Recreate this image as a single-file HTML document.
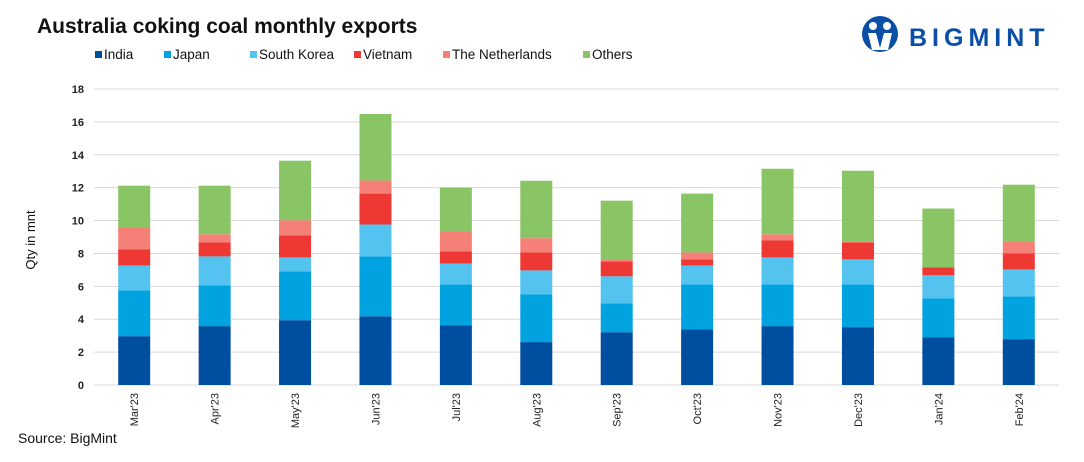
<!DOCTYPE html>
<html><head><meta charset="utf-8"><style>
body{margin:0;background:#fff;}
svg{display:block;font-family:"Liberation Sans",sans-serif;}
</style></head><body>
<svg id="chart" width="1084" height="462" viewBox="0 0 1084 462" xmlns="http://www.w3.org/2000/svg">
<text x="37" y="33" font-size="21" font-weight="bold" fill="#111">Australia coking coal monthly exports</text>
<g>
<circle cx="880" cy="34" r="18" fill="#0a4ea8"/>
<circle cx="873" cy="26" r="4" fill="#fff"/><circle cx="887" cy="26" r="4" fill="#fff"/>
<path d="M868 33 L876 33 L880 48 L884 33 L892 33 L888 50 L872 50 Z" fill="#fff"/>
<text x="909" y="46" font-size="25" font-weight="bold" fill="#0a4ea8" letter-spacing="5">BIGMINT</text>
</g>
<g id="legend"></g>
<g id="grid"></g><g id="bars"></g><g id="xlabels"></g>
<text transform="translate(35,240) rotate(-90)" text-anchor="middle" font-size="13" fill="#111">Qty in mnt</text>
<text x="18" y="443" font-size="14" fill="#111">Source: BigMint</text>
</svg>
<script>
const categories=["Mar'23","Apr'23","May'23","Jun'23","Jul'23","Aug'23","Sep'23","Oct'23","Nov'23","Dec'23","Jan'24","Feb'24"];
const seriesNames=["India","Japan","South Korea","Vietnam","The Netherlands","Others"];
const seriesColors=["#004ea0","#00a2e0","#55c3f0","#ee3833","#f58078","#8ac565"];
const india=[2.97,3.58,3.94,4.18,3.64,2.61,3.21,3.39,3.58,3.52,2.91,2.79];
const japan=[2.79,2.48,2.97,3.64,2.48,2.91,1.76,2.73,2.54,2.6,2.36,2.6];
const southKorea=[1.51,1.76,0.85,1.94,1.27,1.45,1.64,1.15,1.64,1.52,1.4,1.64];
const vietnam=[0.97,0.85,1.33,1.88,0.73,1.09,0.91,0.37,1.03,1.03,0.48,0.97];
const netherlands=[1.34,0.5,0.93,0.8,1.21,0.87,0.12,0.42,0.38,0.04,0,0.73];
const others=[2.54,2.95,3.62,4.04,2.67,3.49,3.57,3.58,3.98,4.32,3.58,3.45];
const yTicks=[0,2,4,6,8,10,12,14,16,18];
const series=[india,japan,southKorea,vietnam,netherlands,others];
const NS="http://www.w3.org/2000/svg";
const X0=94,X1=1059,Y0=385,Y1=89,YMAX=18;
const band=(X1-X0)/categories.length, bw=32;
const y=v=>Y0-(v/YMAX)*(Y0-Y1);
const xc=i=>X0+band*(i+0.5);
function mk(tag,attrs,parent){const e=document.createElementNS(NS,tag);for(const k in attrs)e.setAttribute(k,attrs[k]);parent.appendChild(e);return e;}
const grid=document.getElementById('grid');
yTicks.forEach(t=>{
 const l=mk('line',{x1:X0,x2:X1,y1:y(t),y2:y(t),stroke:'#d9d9d9','stroke-width':1},grid);
 
 
 const tx=mk('text',{x:84,y:y(t)+4,'text-anchor':'end','font-size':11,'font-weight':'bold',fill:'#222'},grid);
 tx.textContent=t;
 
 
});
const bars=document.getElementById('bars');
categories.forEach((c,i)=>{
 let acc=0;
 series.forEach((s,j)=>{
  const v=s[i]; if(v<=0){return;}
  const r=mk('rect',{x:xc(i)-bw/2,y:y(acc+v),width:bw,height:y(acc)-y(acc+v),fill:seriesColors[j]},bars);
  
  
  acc+=v;
 });
 const tx=mk('text',{transform:`translate(${xc(i)+4},393) rotate(-90)`,'text-anchor':'end','font-size':11,fill:'#222'},document.getElementById('xlabels'));
 tx.textContent=c;
 
 
});
const legendX=[95,164,250,354,443,583];
const lg=document.getElementById('legend');
seriesNames.forEach((n,j)=>{
 const g=mk('g',{},lg);
 
 
 mk('rect',{x:legendX[j],y:51,width:7,height:7,fill:seriesColors[j]},g);
 const t=mk('text',{x:legendX[j]+9,y:59,'font-size':13.5,fill:'#111'},g);
 t.textContent=n;
});
</script>
</body></html>
